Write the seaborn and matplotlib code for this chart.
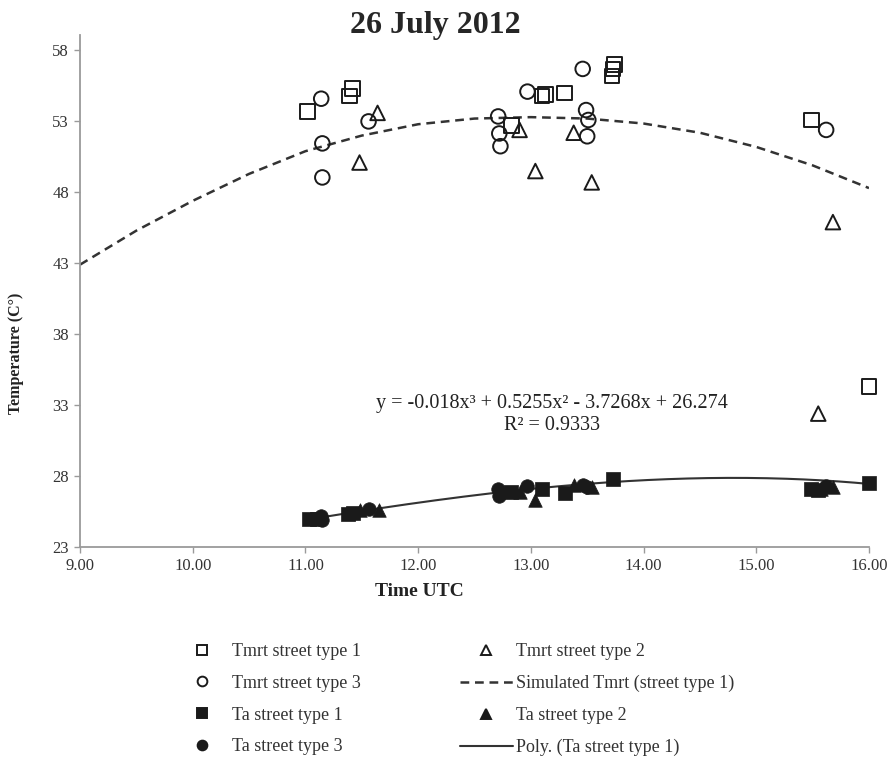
import seaborn as sns
from matplotlib import pyplot as plt
from matplotlib.lines import Line2D
import numpy as np
import pandas as pd

# Tmrt (open markers)
tmrt1_x = [11.02, 11.39, 11.42, 12.83, 13.10, 13.13, 13.30, 13.72, 13.73, 13.74, 15.49, 16.00]
tmrt1_y = [53.7, 54.8, 55.3, 52.7, 54.8, 54.9, 55.0, 56.2, 56.7, 57.0, 53.1, 34.3]
tmrt2_x = [11.48, 11.64, 12.90, 13.04, 13.38, 13.54, 15.55, 15.68]
tmrt2_y = [50.1, 53.6, 52.4, 49.5, 52.2, 48.7, 32.4, 45.9]
tmrt3_x = [11.14, 11.15, 11.15, 11.56, 12.71, 12.72, 12.73, 12.97, 13.46, 13.49, 13.51, 13.50, 15.62]
tmrt3_y = [54.6, 51.45, 49.05, 53.0, 53.35, 52.15, 51.25, 55.1, 56.7, 53.8, 53.1, 51.95, 52.4]

# Ta (filled markers)
ta1_x = [11.03, 11.10, 11.38, 11.42, 12.82, 13.10, 13.30, 13.73, 15.49, 15.55, 16.00]
ta1_y = [25.0, 25.0, 25.3, 25.4, 26.9, 27.1, 26.8, 27.8, 27.1, 27.0, 27.5]
ta2_x = [11.48, 11.65, 12.90, 13.04, 13.38, 13.54, 15.57, 15.68]
ta2_y = [25.6, 25.6, 26.9, 26.3, 27.4, 27.2, 27.1, 27.2]
ta3_x = [11.14, 11.15, 11.56, 12.71, 12.72, 12.97, 13.46, 13.50, 15.62]
ta3_y = [25.2, 24.9, 25.7, 27.1, 26.6, 27.3, 27.4, 27.2, 27.3]

# simulated Tmrt (street type 1)
sim_x = [9.0, 9.5, 10.0, 10.5, 11.0, 11.5, 12.0, 12.5, 13.0, 13.5, 14.0, 14.5, 15.0, 15.5, 16.0]
sim_y = [42.9, 45.3, 47.4, 49.3, 50.9, 52.0, 52.8, 53.2, 53.3, 53.2, 52.85, 52.2, 51.2, 49.9, 48.3]

# trendline coefficients from the equation shown on chart
poly_coef = [-0.018, 0.5255, -3.7268, 26.274]

x_ticks = [9, 10, 11, 12, 13, 14, 15, 16]
y_ticks = [23, 28, 33, 38, 43, 48, 53, 58]

sns.set_style('white')
plt.rcParams['font.family'] = ['Liberation Serif', 'DejaVu Serif']

fig = plt.figure(figsize=(8.93, 7.58), dpi=100)
ax = fig.add_axes([0.0896, 0.2784, 0.8835, 0.6756])

ink = '#1a1a1a'
line_col = '#333333'

xs = np.linspace(11.0, 16.0, 200)
poly_df = pd.DataFrame({'x': xs, 'y': np.polyval(poly_coef, xs)})
sns.lineplot(data=poly_df, x='x', y='y', ax=ax, color=line_col, lw=1.5, zorder=2)

sim_df = pd.DataFrame({'x': sim_x, 'y': sim_y})
sns.lineplot(data=sim_df, x='x', y='y', ax=ax, color=line_col, lw=1.8,
             linestyle=(0, (3.5, 2.3)), zorder=2)

open_kw = dict(facecolor='none', edgecolor=ink, color=ink, linewidth=1.4, s=110,
               zorder=3, clip_on=False)
sns.scatterplot(x=tmrt1_x, y=tmrt1_y, marker='s', ax=ax, **open_kw)
sns.scatterplot(x=tmrt2_x, y=tmrt2_y, marker='^', ax=ax, **open_kw)
sns.scatterplot(x=tmrt3_x, y=tmrt3_y, marker='o', ax=ax, **open_kw)

fill_kw = dict(color=ink, edgecolor=ink, linewidth=0.5, s=95, zorder=4, clip_on=False)
sns.scatterplot(x=ta1_x, y=ta1_y, marker='s', ax=ax, **fill_kw)
sns.scatterplot(x=ta2_x, y=ta2_y, marker='^', ax=ax, **fill_kw)
sns.scatterplot(x=ta3_x, y=ta3_y, marker='o', ax=ax, **fill_kw)

ax.set_xlim(9, 16)
ax.set_ylim(23, 59.1)
ax.set_xticks(x_ticks)
ax.set_xticklabels(['%.2f' % t for t in x_ticks])
ax.set_yticks(y_ticks)
ax.set_xlabel('')
ax.set_ylabel('')
for side in ['top', 'right']:
    ax.spines[side].set_visible(False)
for side in ['left', 'bottom']:
    ax.spines[side].set_color('#9a9a9a')
    ax.spines[side].set_linewidth(1.3)
ax.tick_params(axis='both', which='major', direction='out', length=4, width=1,
               color='#9a9a9a', labelsize=12, labelcolor='#333333', pad=4, left=True, bottom=True)

ax.text(13.19, 32.35, 'y = -0.018x³ + 0.5255x² - 3.7268x + 26.274\nR² = 0.9333',
        ha='center', va='center', fontsize=14.5, color='#222222', linespacing=1.2)

fig.text(0.487, 0.966, '26 July 2012', ha='center', va='center', fontsize=23, fontweight='bold')
fig.text(0.47, 0.219, 'Time UTC', ha='center', va='center', fontsize=14, fontweight='bold', color='#222222')
fig.text(0.018, 0.534, 'Temperature (C°)', ha='center', va='center', rotation=90,
         fontsize=11.5, fontweight='bold', color='#222222')

def mk(marker, filled, label):
    return Line2D([], [], marker=marker, linestyle='none', markersize=7,
                  markerfacecolor=ink if filled else 'none', markeredgecolor=ink,
                  markeredgewidth=1.4, label=label)

handles = [
    mk('s', False, 'Tmrt street type 1'),
    mk('o', False, 'Tmrt street type 3'),
    mk('s', True, 'Ta street type 1'),
    mk('o', True, 'Ta street type 3'),
    mk('^', False, 'Tmrt street type 2'),
    Line2D([], [], color=line_col, lw=1.8, linestyle=(0, (3.5, 2.3)), label='Simulated Tmrt (street type 1)'),
    mk('^', True, 'Ta street type 2'),
    Line2D([], [], color=line_col, lw=1.5, label='Poly. (Ta street type 1)'),
]
fig.legend(handles=handles, ncol=2, loc='upper left', bbox_to_anchor=(0.197, 0.1517),
           frameon=False, fontsize=13, handlelength=2.9, handletextpad=0.2,
           columnspacing=5.5, labelspacing=0.82, borderpad=0, borderaxespad=0,
           labelcolor='#333333')

fig.savefig('out.png', dpi=100)
